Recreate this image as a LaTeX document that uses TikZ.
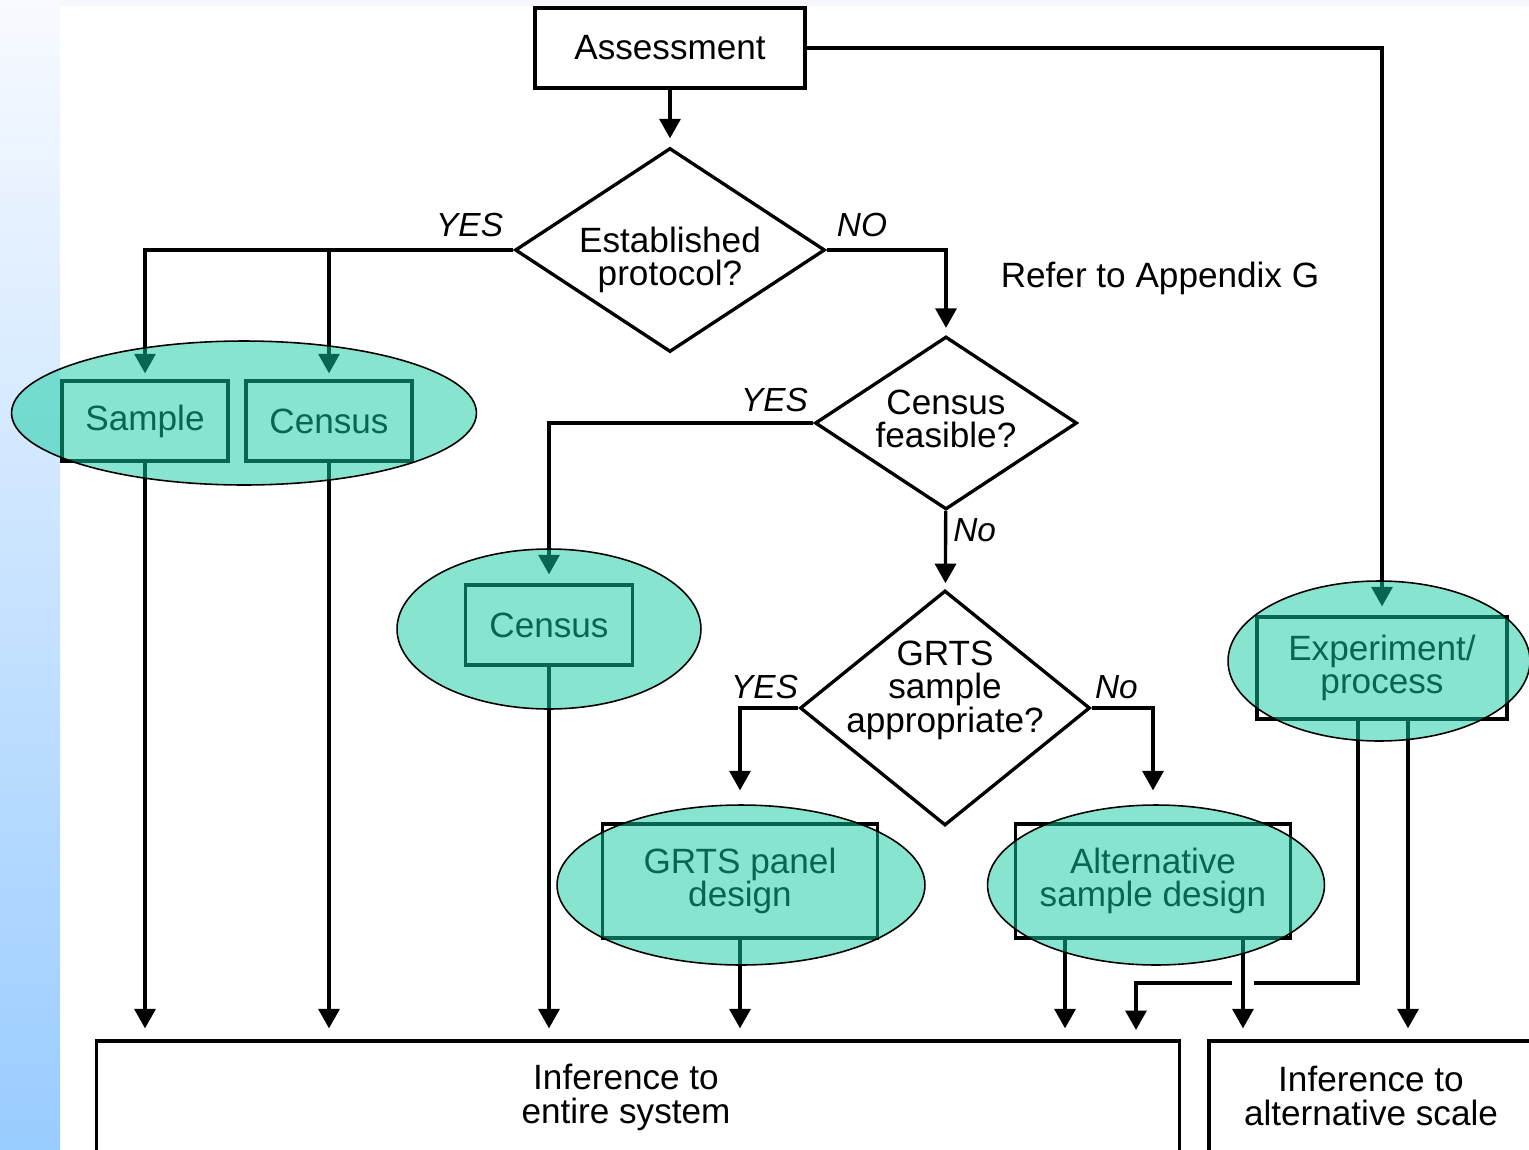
\documentclass[tikz,border=0pt]{standalone}
\usepackage{fontspec}
\setmainfont{Liberation Sans}
\usetikzlibrary{positioning,shapes.geometric,arrows.meta}
\definecolor{stripblue}{RGB}{153,204,255}
\definecolor{stripwhite}{RGB}{248,250,255}
\definecolor{bandgrey}{RGB}{245,248,255}
\definecolor{ovalgreen}{RGB}{17,205,161}

\begin{document}
\begin{tikzpicture}[x=0.02cm, y=-0.02cm,
	txt/.style={font=\fontsize{20}{19}\selectfont, align=center, inner sep=0pt},
	box/.style={txt, draw, line width=1.9pt},
	query/.style={diamond, draw, line width=1.9pt, inner sep=0pt},
	oval/.style={ellipse, draw, line width=0.9pt, fill=ovalgreen, fill opacity=0.5, inner sep=0pt},
	answer/.style={font=\fontsize{19}{19}\selectfont\itshape, inner sep=0pt},
	link/.style={line width=1.9pt},
	arr/.style={link, -{Triangle[width=0.42cm,length=0.39cm]}}]
	%\draw[help lines, thick] (0,0) grid[step=100] (1529,1150);
	\useasboundingbox (0,0) rectangle (1529,1150);
	\clip (0,0) rectangle (1529,1150);
	\fill[white] (0,0) rectangle (1529,1150);
	\fill[top color=stripwhite, bottom color=stripblue] (0,0) rectangle (60,1150);
	\fill[bandgrey] (60,0) rectangle (1529,6);

	% decisions
	\node[box, minimum width=5.4cm, minimum height=1.6cm] (assess) at (670,48) {Assessment};
	\node[query, minimum width=6.2cm, minimum height=4.08cm, label={[txt, yshift=-0.2cm]center:Established\\protocol?}] (est) at (670,250) {};
	\node[query, minimum width=5.24cm, minimum height=3.46cm, label={[txt, yshift=0.08cm]center:Census\\feasible?}] (feas) at (946,423) {};
	\node[query, minimum width=5.8cm, minimum height=4.7cm, label={[txt, yshift=0.36cm]center:GRTS\\sample\\appropriate?}] (grts) at (945,708) {};
	\node[txt] (refer) at (1160,278) {Refer to Appendix G};

	% designs
	\node[box, minimum width=3.32cm, minimum height=1.6cm] (sample) at (145,421) {Sample};
	\node[box, minimum width=3.32cm, minimum height=1.6cm] (census) at (329,421) {Census};
	\node[box, minimum width=3.34cm, minimum height=1.6cm] (census2) at (549,625) {Census};
	\node[box, minimum width=5.5cm, minimum height=2.28cm] (panel) at (740,881) {GRTS panel\\design};
	\node[box, minimum width=5.5cm, minimum height=2.28cm] (altern) at (1153,881) {Alternative\\sample design};
	\node[box, minimum width=5cm, minimum height=2.04cm] (exper) at (1382,668) {Experiment/\\process};

	% inference
	\node[box, minimum width=21.66cm, minimum height=4cm] (inf1) at (638,1141) {};
	\node[box, minimum width=6.48cm, minimum height=4cm] (inf2) at (1371,1141) {};
	\node[txt, anchor=north] (inf1txt) at (626,1064) {Inference to\\entire system};
	\node[txt, anchor=north] (inf2txt) at (1371,1066) {Inference to\\alternative scale};

	% answers
	\node[answer, above left=0.26cm and 0.2cm of est.west] (yes1) {YES};
	\node[answer, above right=0.26cm and 0.2cm of est.east] (no1) {NO};
	\node[answer, above left=0.22cm and 0.1cm of feas.west] (yes2) {YES};
	\node[answer, below right=0.14cm and 0.14cm of feas.south] (no2) {No};
	\node[answer, above left=0.18cm and 0cm of grts.west] (yes3) {YES};
	\node[answer, above right=0.18cm and 0.06cm of grts.east] (no3) {No};

	% flow
	\draw[arr, shorten >=0.16cm] (assess) -- (est);
	\draw[arr, shorten >=0.12cm] (est.west) -| (sample);
	\draw[arr, shorten >=0.12cm] (census |- est.west) -- (census);
	\draw[arr, shorten >=0.14cm] (est.east) -| (feas);
	\draw[arr, shorten >=0.18cm] (feas.west) -| (census2);
	\draw[arr, shorten >=0.12cm] (feas) -- (grts);
	\draw[arr, shorten >=0.64cm] (grts.west) -| (panel);
	\draw[arr, shorten >=0.64cm] (grts.east) -| (altern);
	\draw[arr, shorten >=0.18cm] (assess.east) -| (exper);

	\draw[arr, shorten >=0.22cm] (sample) -- (sample |- inf1.north);
	\draw[arr, shorten >=0.22cm] (census) -- (census |- inf1.north);
	\draw[arr, shorten >=0.22cm] (census2) -- (census2 |- inf1.north);
	\draw[arr, shorten >=0.22cm] (panel) -- (panel |- inf1.north);
	\coordinate (alt1) at ([xshift=-1.76cm]altern.south);
	\coordinate (alt2) at ([xshift=1.8cm]altern.south);
	\draw[arr, shorten >=0.22cm] (alt1) -- (alt1 |- inf1.north);
	\draw[arr, shorten >=0.22cm] (alt2) -- (alt2 |- inf2.north);

	% experiment goes both ways, hopping over the alternative line
	\coordinate (exp1) at ([xshift=-0.48cm]exper.south);
	\coordinate (exp2) at ([xshift=0.52cm]exper.south);
	\coordinate (hopR) at (1254,983);
	\coordinate (hopL) at (1232,983);
	\coordinate (back) at (1136,1041);
	\draw[link] (exp1) |- (hopR);
	\draw[arr, shorten >=0.22cm] (hopL) -| (back);
	\draw[arr, shorten >=0.22cm] (exp2) -- (exp2 |- inf2.north);

	% rings over the designs
	\node[oval, minimum width=9.3cm, minimum height=2.88cm] (ring1) at (244,413) {};
	\node[oval, minimum width=6.08cm, minimum height=3.2cm] (ring2) at (549,629) {};
	\node[oval, minimum width=7.36cm, minimum height=3.2cm] (ring3) at (741,885) {};
	\node[oval, minimum width=6.74cm, minimum height=3.2cm] (ring4) at (1156,885) {};
	\node[oval, minimum width=6.04cm, minimum height=3.2cm] (ring5) at (1379,661) {};
\end{tikzpicture}
\end{document}
